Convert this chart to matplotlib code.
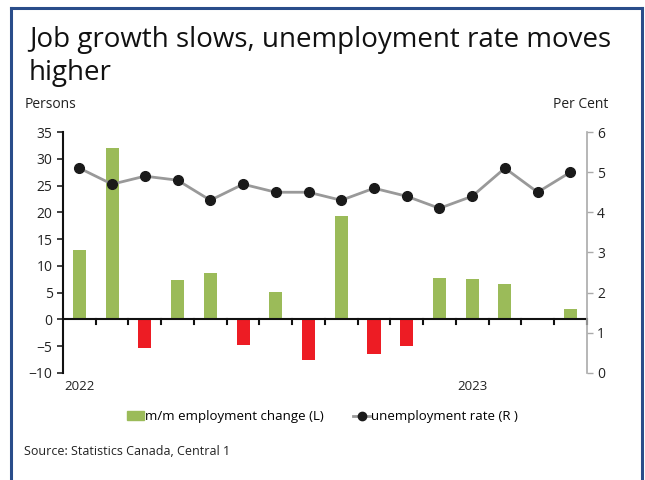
import matplotlib.pyplot as plt
import numpy as np
from matplotlib.patches import Rectangle
from matplotlib.lines import Line2D

plt.rcParams['font.family'] = ['Open Sans', 'DejaVu Sans']

# Monthly data, Jan 2022 - Apr 2023
months = ['Jan 2022', 'Feb', 'Mar', 'Apr', 'May', 'Jun', 'Jul', 'Aug',
          'Sep', 'Oct', 'Nov', 'Dec', 'Jan 2023', 'Feb', 'Mar', 'Apr']
emp_change = [13.0, 32.1, -5.4, 7.3, 8.6, -4.7, 5.2, -7.5,
              19.4, -6.4, -4.9, 7.7, 7.6, 6.6, 0.0, 2.0]
unemp_rate = [5.1, 4.7, 4.9, 4.8, 4.3, 4.7, 4.5, 4.5,
              4.3, 4.6, 4.4, 4.1, 4.4, 5.1, 4.5, 5.0]
year_labels = {0: '2022', 12: '2023'}

green = '#9bbb59'
red = '#ed1c24'

fig = plt.figure(figsize=(6.45, 4.8), dpi=100)
ax = fig.add_axes([0.0977, 0.223, 0.812, 0.502])

x = np.arange(len(months))
colors = [green if v >= 0 else red for v in emp_change]
ax.bar(x, emp_change, width=0.4, color=colors, zorder=2)

ax.set_xlim(-0.5, len(months) - 0.5)
ax.set_ylim(-10, 35)
ax.set_yticks(np.arange(-10, 36, 5))
ax.tick_params(axis='y', direction='out', length=4, width=1.2, labelsize=10,
               colors='#222222')
ax.spines['left'].set_linewidth(1.5)
ax.spines['left'].set_color('#111111')
for s in ['top', 'right', 'bottom']:
    ax.spines[s].set_visible(False)

# zero line with category ticks hanging below it
ax.axhline(0, color='#111111', lw=1.5, zorder=3)
for b in np.arange(0.5, len(months), 1.0):
    ax.plot([b, b], [0, -0.9], color='#111111', lw=1.5, zorder=3,
            clip_on=False)
ax.set_xticks([])
for i, lab in year_labels.items():
    ax.text(i, -11.4, lab, ha='center', va='top', fontsize=9.5,
            color='#222222')

ax2 = ax.twinx()
ax2.plot(x, unemp_rate, color='#999999', lw=2, marker='o', markersize=7,
         markerfacecolor='#1a1a1a', markeredgecolor='#1a1a1a', zorder=4)
ax2.set_ylim(0, 6)
ax2.set_yticks(range(0, 7))
ax2.tick_params(axis='y', direction='out', length=4, width=1, labelsize=10,
                colors='#222222')
ax2.tick_params(axis='y', color='#aaaaaa')
ax2.spines['right'].set_color('#aaaaaa')
ax2.spines['right'].set_linewidth(1.2)
for s in ['top', 'left', 'bottom']:
    ax2.spines[s].set_visible(False)

fig.text(0.045, 0.945, 'Job growth slows, unemployment rate moves\nhigher',
         fontsize=20, color='#111111', ha='left', va='top',
         linespacing=1.2)
fig.text(0.038, 0.783, 'Persons', fontsize=10, color='#222222', va='center')
fig.text(0.943, 0.783, 'Per Cent', fontsize=10, color='#222222', va='center',
         ha='right')

handles = [Rectangle((0, 0), 1, 1, color=green),
           Line2D([0], [0], color='#999999', lw=2, marker='o', markersize=6,
                  markerfacecolor='#1a1a1a', markeredgecolor='#1a1a1a')]
fig.legend(handles, ['m/m employment change (L)', 'unemployment rate (R )'],
           loc='center', bbox_to_anchor=(0.5, 0.132), ncol=2, frameon=False,
           fontsize=9.5, handlelength=1.3, handletextpad=0.1,
           columnspacing=2.2)

fig.text(0.037, 0.06, 'Source: Statistics Canada, Central 1', fontsize=9,
         color='#222222', va='center')

# frame around the whole chart (open at the bottom)
border = '#2a4d8a'
fig.add_artist(Line2D([0.0163, 0.0163], [0, 0.983], color=border, lw=2.2,
                      transform=fig.transFigure))
fig.add_artist(Line2D([0.0163, 0.995], [0.983, 0.983], color=border, lw=2.2,
                      transform=fig.transFigure))
fig.add_artist(Line2D([0.995, 0.995], [0, 0.983], color=border, lw=2.2,
                      transform=fig.transFigure))

fig.savefig('out.png', dpi=100)
